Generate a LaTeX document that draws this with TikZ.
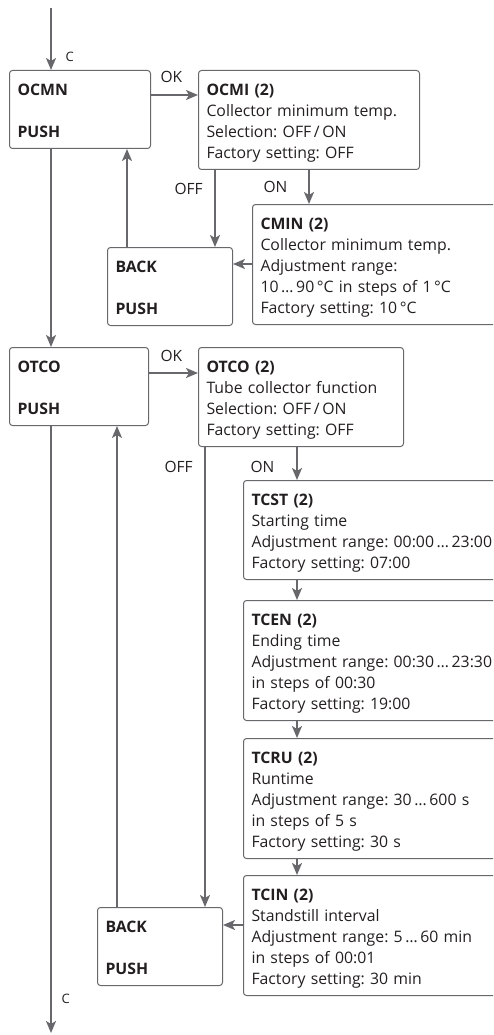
\documentclass[tikz,border=0pt]{standalone}
\usepackage{fontspec}
\setmainfont{Open Sans}
\usetikzlibrary{positioning, calc, arrows.meta}
\frenchspacing

\definecolor{linegray}{RGB}{104,104,108}
\definecolor{textdark}{RGB}{35,31,32}

% struts fixing the distance from the box edge to the first/last baseline
\newcommand{\topgap}{\rule{0pt}{25pt}}
\newcommand{\botgap}{\rule[-11pt]{0pt}{11pt}}
\newcommand{\menufont}{\fontsize{15.8}{21}\selectfont}

\begin{document}
\begin{tikzpicture}[x=1pt, y=-1pt,
    menu/.style={draw=linegray, line width=1pt, rounded corners=3pt, anchor=north west,
                 align=left, inner xsep=8pt, inner ysep=0pt, font=\menufont, text=textdark},
    keybox/.style={menu, text width=#1},
    flow/.style={draw=linegray, line width=1.8pt, -{Stealth[length=12pt, width=10pt, inset=3pt]}},
    lbl/.style={font=\fontsize{15.5}{17}\selectfont, text=textdark, anchor=base west},
    ctl/.style={font=\fontsize{13}{14}\selectfont, text=textdark, anchor=base west}]

    \clip (0,0) rectangle (493,1035);

    % --- FIRST MENU: OCMN ---
    \node[keybox=125pt] (ocmn) at (9,70) {\topgap\textbf{OCMN}\\[21pt]\textbf{PUSH}\botgap};
    \node[keybox=205pt] (ocmi) at (198,70)
        {\topgap\textbf{OCMI (2)}\\Collector minimum temp.\\Selection: OFF\,/\,ON\\Factory setting: OFF\botgap};
    \node[keybox=260pt] (cmin) at (252,204)
        {\topgap\textbf{CMIN (2)}\\Collector minimum temp.\\Adjustment range:\\10\,…\,90\,°C in steps of 1\,°C\\Factory setting: 10\,°C\botgap};
    \node[keybox=109pt] (back1) at (107,247) {\topgap\textbf{BACK}\\[21pt]\textbf{PUSH}\botgap};

    % --- SECOND MENU: OTCO ---
    \node[keybox=123pt] (otco) at (9,347) {\topgap\textbf{OTCO}\\[21pt]\textbf{PUSH}\botgap};
    \node[keybox=189pt] (otcotwo) at (198,347)
        {\topgap\textbf{OTCO (2)}\\Tube collector function\\Selection: OFF\,/\,ON\\Factory setting: OFF\botgap};
    \node[keybox=260pt] (tcst) at (243,480)
        {\topgap\textbf{TCST (2)}\\Starting time\\Adjustment range: 00:00\,…\,23:00\\Factory setting: 07:00\botgap};
    \node[keybox=260pt] (tcen) at (243,600)
        {\topgap\textbf{TCEN (2)}\\Ending time\\Adjustment range: 00:30\,…\,23:30\\in steps of 00:30\\Factory setting: 19:00\botgap};
    \node[keybox=260pt] (tcru) at (243,738)
        {\topgap\textbf{TCRU (2)}\\Runtime\\Adjustment range: 30\,…\,600 s\\in steps of 5 s\\Factory setting: 30 s\botgap};
    \node[keybox=260pt] (tcin) at (243,875)
        {\topgap\textbf{TCIN (2)}\\Standstill interval\\Adjustment range: 5\,…\,60 min\\in steps of 00:01\\Factory setting: 30 min\botgap};
    \node[keybox=109pt] (back2) at (97,907) {\topgap\textbf{BACK}\\[21pt]\textbf{PUSH}\botgap};

    % --- MAIN COLUMN ---
    \coordinate (entry) at (51,8);
    \coordinate (exit) at (51,1033);
    \draw[flow] (entry) -- (entry |- ocmn.north);
    \draw[flow] (entry |- ocmn.south) -- (entry |- otco.north);
    \draw[flow] (entry |- otco.south) -- (exit);
    \node[ctl] at (62,62) {C};
    \node[ctl] at (58,1003) {C};

    % --- OCMN BRANCH ---
    \draw[flow] ($(ocmn.north east)+(0,25)$) -- ($(ocmi.north west)+(0,25)$);
    \node[lbl] at (157,83) {OK};
    \draw[flow] (ocmi.south) -- (ocmi.south |- cmin.north);
    \node[lbl] at (260,193) {ON};
    \draw[flow] ($(ocmi.south west)+(17,0)$) coordinate (off1) -- (off1 |- back1.north);
    \node[lbl] at (171,194) {OFF};
    \draw[flow] ($(cmin.north west)+(0,60)$) coordinate (ret1) -- (ret1 -| back1.east);
    \draw[flow] ($(back1.north west)+(20,0)$) coordinate (up1) -- (up1 |- ocmn.south);

    % --- OTCO BRANCH ---
    \draw[flow] ($(otco.north east)+(0,26)$) -- ($(otcotwo.north west)+(0,26)$);
    \node[lbl] at (157,361) {OK};
    \coordinate (spine) at (297,0);
    \foreach \a/\b in {otcotwo/tcst, tcst/tcen, tcen/tcru, tcru/tcin}
        \draw[flow] (spine |- \a.south) -- (spine |- \b.north);
    \node[lbl] at (247,472) {ON};
    \draw[flow] ($(otcotwo.south west)+(7,0)$) coordinate (off2) -- (off2 |- back2.north);
    \node[lbl] at (161,472) {OFF};
    \draw[flow] ($(tcin.north west)+(0,50)$) coordinate (ret2) -- (ret2 -| back2.east);
    \draw[flow] ($(back2.north west)+(20,0)$) coordinate (up2) -- (up2 |- otco.south);

\end{tikzpicture}
\end{document}
